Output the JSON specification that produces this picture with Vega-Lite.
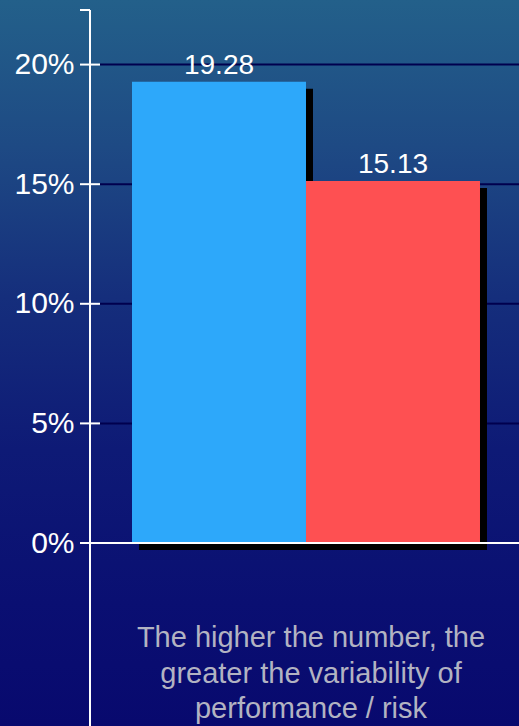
{
  "$schema": "https://vega.github.io/schema/vega-lite/v6.json",
  "width": 519,
  "height": 726,
  "padding": 0,
  "autosize": {"type": "none"},
  "background": "#08096e",
  "view": {
    "stroke": null,
    "fill": {
      "gradient": "linear",
      "x1": 0, "y1": 0, "x2": 0, "y2": 1,
      "stops": [
        {"offset": 0, "color": "#23608a"},
        {"offset": 0.2, "color": "#1e4a84"},
        {"offset": 0.41, "color": "#152e7c"},
        {"offset": 0.62, "color": "#0e1a76"},
        {"offset": 0.83, "color": "#0a0f72"},
        {"offset": 1, "color": "#08096e"}
      ]
    }
  },
  "datasets": {
    "bars": [
      {"name": "Series A", "x0": 0, "x1": 1, "mid": 0.5, "value": 19.28},
      {"name": "Series B", "x0": 1, "x1": 2, "mid": 1.5, "value": 15.13}
    ],
    "ticks": [
      {"v": 0}, {"v": 5}, {"v": 10}, {"v": 15}, {"v": 20}
    ]
  },
  "layer": [
    {
      "data": {"name": "ticks"},
      "transform": [{"filter": "datum.v > 0"}],
      "mark": {"type": "rule", "color": "#00004e", "strokeWidth": 2},
      "encoding": {
        "x": {"datum": -0.1839, "type": "quantitative", "scale": {"domain": [-0.75862, 2.22414], "nice": false, "zero": false}, "axis": null},
        "x2": {"datum": 2.22414},
        "y": {
          "field": "v", "type": "quantitative",
          "scale": {"domain": [-7.65, 22.70], "nice": false, "zero": false},
          "axis": {
            "title": null, "offset": -90, "domain": false, "ticks": false, "grid": false,
            "values": [0, 5, 10, 15, 20], "labelExpr": "datum.value + '%'",
            "labelFont": "Liberation Sans", "labelFontSize": 30, "labelColor": "#ffffff",
            "labelPadding": 16
          }
        }
      }
    },
    {
      "data": {"name": "bars"},
      "mark": {"type": "rect", "color": "#000000", "xOffset": 7, "x2Offset": 7, "yOffset": 7, "y2Offset": 7},
      "encoding": {
        "x": {"field": "x0", "type": "quantitative"},
        "x2": {"field": "x1"},
        "y": {"field": "value", "type": "quantitative"},
        "y2": {"datum": 0}
      }
    },
    {
      "data": {"name": "bars"},
      "mark": {"type": "rect"},
      "encoding": {
        "x": {"field": "x0", "type": "quantitative"},
        "x2": {"field": "x1"},
        "y": {"field": "value", "type": "quantitative"},
        "y2": {"datum": 0},
        "color": {"field": "name", "type": "nominal", "scale": {"domain": ["Series A", "Series B"], "range": ["#2da8fa", "#fe5052"]}, "legend": null}
      }
    },
    {
      "data": {"name": "bars"},
      "mark": {"type": "text", "color": "#ffffff", "font": "Liberation Sans", "fontSize": 28, "baseline": "alphabetic", "align": "center", "dy": -8},
      "encoding": {
        "x": {"field": "mid", "type": "quantitative"},
        "y": {"field": "value", "type": "quantitative"},
        "text": {"field": "value", "type": "quantitative", "format": ".2f"}
      }
    },
    {
      "data": {"name": "ticks"},
      "mark": {"type": "rule", "color": "#ffffff", "strokeWidth": 2},
      "encoding": {
        "x": {"datum": -0.29885, "type": "quantitative"},
        "x2": {"datum": -0.18391},
        "y": {"field": "v", "type": "quantitative"}
      }
    },
    {
      "data": {"values": [{}]},
      "mark": {"type": "rule", "color": "#ffffff", "strokeWidth": 2},
      "encoding": {
        "x": {"datum": -0.24138, "type": "quantitative"},
        "x2": {"datum": 2.22414},
        "y": {"datum": 0, "type": "quantitative"}
      }
    },
    {
      "data": {"values": [{}]},
      "mark": {"type": "rule", "color": "#ffffff", "strokeWidth": 2},
      "encoding": {
        "x": {"datum": -0.24138, "type": "quantitative"},
        "y": {"datum": -7.65, "type": "quantitative"},
        "y2": {"datum": 22.282}
      }
    },
    {
      "data": {"values": [{}]},
      "mark": {"type": "rule", "color": "#ffffff", "strokeWidth": 2},
      "encoding": {
        "x": {"datum": -0.29885, "type": "quantitative"},
        "x2": {"datum": -0.24138},
        "y": {"datum": 22.282, "type": "quantitative"}
      }
    },
    {
      "data": {"values": [{"note": "The higher the number, the greater the variability of performance / risk"}]},
      "mark": {"type": "text", "color": "#b2b3c2", "font": "Liberation Sans", "fontSize": 29, "align": "center", "baseline": "alphabetic", "lineHeight": 35.5,
        "text": ["The higher the number, the", "greater the variability of", "performance / risk"]},
      "encoding": {
        "x": {"datum": 1.0287, "type": "quantitative"},
        "y": {"datum": -4.35, "type": "quantitative"}
      }
    }
  ]
}
